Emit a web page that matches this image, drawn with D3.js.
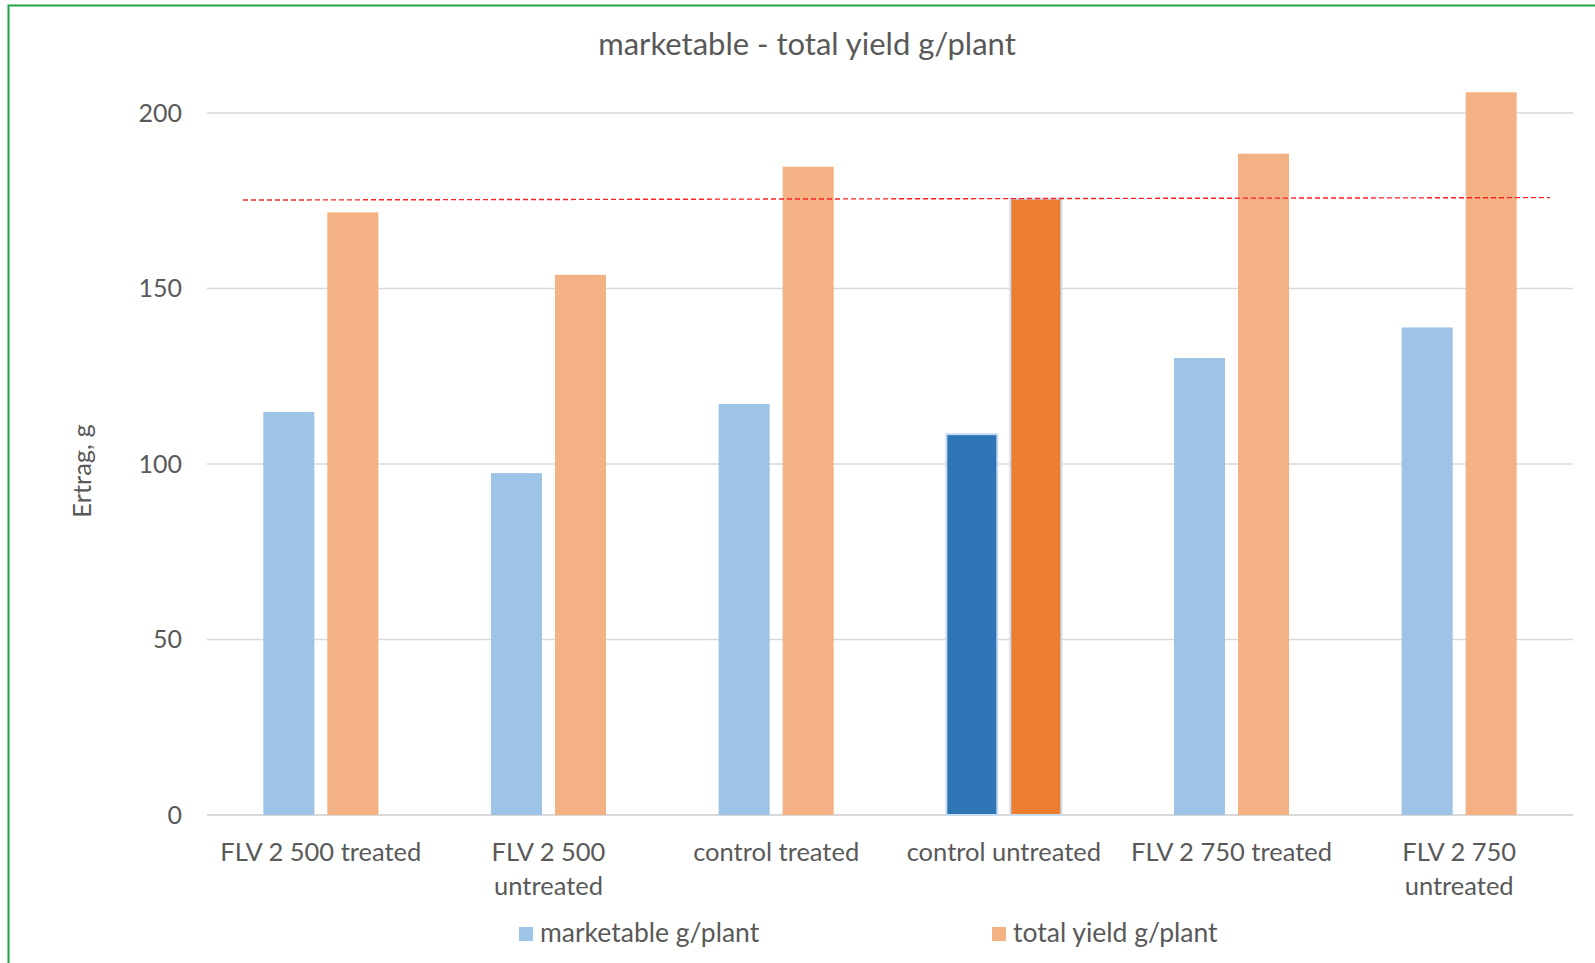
<!DOCTYPE html>
<html>
<head>
<meta charset="utf-8">
<script src="https://cdn.jsdelivr.net/npm/d3@7"></script>
<style>
  html, body { margin: 0; padding: 0; background: #fff; }
  svg { display: block; font-family: Lato, "Open Sans", sans-serif; }
</style>
</head>
<body>
<svg id="chart" width="1595" height="963"></svg>
<script>
// Treatments on the x axis (label lines split where the axis wraps them)
const categories = ["FLV 2 500 treated", "FLV 2 500 untreated", "control treated",
                    "control untreated", "FLV 2 750 treated", "FLV 2 750 untreated"];
const categoryLines = [["FLV 2 500 treated"], ["FLV 2 500", "untreated"], ["control treated"],
                       ["control untreated"], ["FLV 2 750 treated"], ["FLV 2 750", "untreated"]];
const seriesNames = ["marketable g/plant", "total yield g/plant"];
const marketable = [114.8, 97.4, 117.1, 108.5, 130.2, 138.9];
const totalYield = [171.7, 153.9, 184.7, 175.6, 188.4, 205.9];
const highlighted = "control untreated";
// Reference level of the control (drawn as a dashed line across the plot)
const referenceLine = [175.2, 175.9];
const yTicks = [0, 50, 100, 150, 200];

const svg = d3.select("#chart");
const textColor = "#595959";
const plot = { left: 207, right: 1573, top: 113, bottom: 815 };

const palette = {
  normal:    ["#9DC3E6", "#F4B183"],
  highlight: ["#2E75B6", "#ED7D31"]
};

// Frame
svg.append("path")
  .attr("d", "M8.5,963 L8.5,5.5 L1595,5.5")
  .attr("fill", "none")
  .attr("stroke", "#1FA547")
  .attr("stroke-width", 2);

const x = d3.scaleBand().domain(categories).range([plot.left, plot.right]);
const xSeries = d3.scaleBand().domain(seriesNames)
  .range([0, x.bandwidth()]).paddingInner(0.203).paddingOuter(0.88);
const y = d3.scaleLinear().domain([0, 200]).range([plot.bottom, plot.top]);

// Gridlines
svg.append("g").selectAll("line").data(yTicks).join("line")
  .attr("x1", plot.left).attr("x2", plot.right)
  .attr("y1", d => y(d)).attr("y2", d => y(d))
  .attr("stroke", "#D9D9D9")
  .attr("stroke-width", d => d === 0 ? 2 : 1.5);

// Y axis tick labels
const yAxis = d3.axisLeft(y).tickValues(yTicks).tickSize(0).tickPadding(25);
svg.append("g").attr("transform", `translate(${plot.left},0)`).call(yAxis)
  .call(g => g.select(".domain").remove())
  .selectAll("text")
  .attr("fill", textColor)
  .attr("font-size", 25)
  .attr("font-family", "Lato, 'Open Sans', sans-serif");

// Bars
const rows = categories.map((c, i) => ({ cat: c, values: [marketable[i], totalYield[i]] }));
const groups = svg.append("g").selectAll("g").data(rows).join("g")
  .attr("transform", d => `translate(${x(d.cat)},0)`);
groups.selectAll("rect")
  .data(d => d.values.map((v, j) => ({ cat: d.cat, series: seriesNames[j], j, v })))
  .join("rect")
  .attr("x", d => xSeries(d.series))
  .attr("width", xSeries.bandwidth())
  .attr("y", d => y(d.v))
  .attr("height", d => y(0) - y(d.v))
  .attr("fill", d => (d.cat === highlighted ? palette.highlight : palette.normal)[d.j])
  .attr("stroke", d => d.cat === highlighted ? "#C9DDF1" : "none")
  .attr("stroke-width", 2);

// Dashed reference line
svg.append("line")
  .attr("x1", plot.left + 36).attr("x2", plot.right - 23)
  .attr("y1", y(referenceLine[0])).attr("y2", y(referenceLine[1]))
  .attr("stroke", "#FF2020")
  .attr("stroke-width", 1.4)
  .attr("stroke-dasharray", "5,3");

// Category labels
const labels = svg.append("g").selectAll("text").data(categories).join("text")
  .attr("text-anchor", "middle")
  .attr("fill", textColor)
  .attr("font-size", 25.5)
  .attr("transform", d => `translate(${x(d) + x.bandwidth() / 2},861)`);
labels.selectAll("tspan")
  .data((d, i) => categoryLines[i])
  .join("tspan")
  .attr("x", 0)
  .attr("y", (d, i) => i * 33.5)
  .text(d => d);

// Title
svg.append("text")
  .attr("x", 807).attr("y", 55)
  .attr("text-anchor", "middle")
  .attr("fill", textColor)
  .attr("font-size", 31)
  .text("marketable - total yield g/plant");

// Y axis title
svg.append("text")
  .attr("transform", `translate(91,471) rotate(-90)`)
  .attr("text-anchor", "middle")
  .attr("fill", textColor)
  .attr("font-size", 25.5)
  .text("Ertrag, g");

// Legend
const legendX = [519, 992];
const legend = svg.append("g").selectAll("g").data(seriesNames).join("g")
  .attr("transform", (d, i) => `translate(${legendX[i]},927)`);
legend.append("rect")
  .attr("width", 14).attr("height", 14)
  .attr("fill", (d, i) => palette.normal[i]);
legend.append("text")
  .attr("x", 21).attr("y", 15)
  .attr("fill", textColor)
  .attr("font-size", 26.5)
  .text(d => d);
</script>
</body>
</html>
